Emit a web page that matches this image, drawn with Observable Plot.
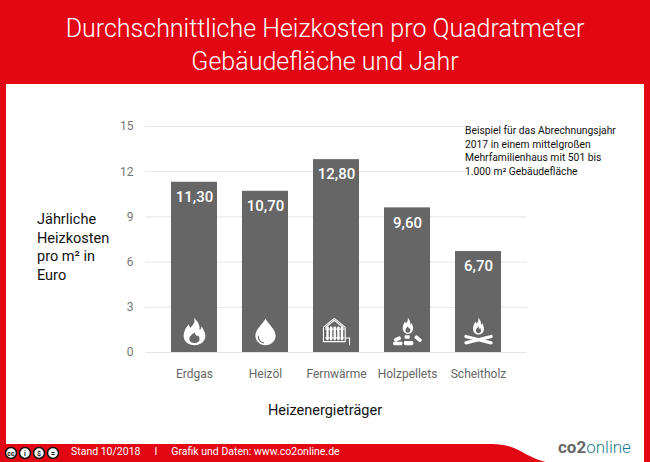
<!DOCTYPE html>
<html lang="de">
<head>
<meta charset="utf-8">
<script src="https://cdn.jsdelivr.net/npm/d3@7"></script>
<script src="https://cdn.jsdelivr.net/npm/@observablehq/plot@0.6"></script>
<style>
  html,body{margin:0;padding:0;background:#e30613;}
  #page{position:relative;width:650px;height:462px;overflow:hidden;font-family:Roboto,sans-serif;background:#e30613;}
  #panel{position:absolute;left:6px;top:84px;width:638px;height:360px;background:#fff;}
  #title{position:absolute;left:0;top:12px;width:650px;text-align:center;color:#fff;font-size:25px;font-weight:300;line-height:33px;}
  #chart{position:absolute;left:0;top:0;}
  #ylabel{position:absolute;left:37px;top:211px;font-size:14.5px;line-height:18.5px;color:#111;}
  #xlabel{position:absolute;left:0;top:402px;width:650px;text-align:center;padding-left:0;font-size:14.5px;color:#111;}
  #note{position:absolute;left:465px;top:124px;width:170px;font-size:10.3px;line-height:13.6px;color:#111;background:#fff;padding-top:0;}
  #foot{position:absolute;left:6px;top:445px;color:#fff;font-size:10.5px;white-space:nowrap;}
  #logo{position:absolute;left:558px;top:437px;font-size:17px;white-space:nowrap;color:#6a6a6a;}
  #logo b{font-weight:700;color:#666;}
  #logo span{color:#1d7f8c;font-weight:300;}
  #curve{position:absolute;left:0;top:0;}
</style>
</head>
<body>
<div id="page">
  <div id="panel"></div>
  <svg id="curve" width="650" height="462">
    <path d="M490 444 C512 444 518 450 530 456 C538 460 544 462 548 462 L644 462 L644 444 Z" fill="#fff"/>
    <g id="badges"></g>
  </svg>
  <div id="title">Durchschnittliche Heizkosten pro Quadratmeter<br>Gebäudefläche und Jahr</div>
  <div id="chart"></div>
  <div id="ylabel">Jährliche<br>Heizkosten<br>pro m² in<br>Euro</div>
  <div id="xlabel">Heizenergieträger</div>
  <div id="note">Beispiel für das Abrechnungsjahr<br>2017 in einem mittelgroßen<br>Mehrfamilienhaus mit 501 bis<br>1.000 m² Gebäudefläche</div>
  <div id="foot"><span style="margin-left:65px">Stand 10/2018</span><span style="margin-left:14px">I</span><span style="margin-left:14px">Grafik und Daten: www.co2online.de</span></div>
  <div id="logo"><b>co2</b><span>online</span></div>
</div>
<script>
const categories = ["Erdgas","Heizöl","Fernwärme","Holzpellets","Scheitholz"];
const costs = [11.30,10.70,12.80,9.60,6.70];
const costLabels = ["11,30","10,70","12,80","9,60","6,70"];
const yTicks = [0,3,6,9,12,15];
const badgeGlyphs = ["cc","i","$","="];

const svgUri = inner => "data:image/svg+xml," + encodeURIComponent(
  `<svg xmlns="http://www.w3.org/2000/svg" viewBox="0 0 40 40">${inner}</svg>`);
const flame = (s="#fff") => `<path fill-rule="evenodd" fill="${s}" d="M19 1c3 6-1 10-5 14-1-2-1-3-2-5-4 5-7 10-7 16 0 8 7 13 15 13s15-5 15-13c0-5-3-9-5-13-1 2-1 4-3 5 1-7-3-13-8-17zm1 20c1 3 2 4 4 6 0-1 0-1 1-2 1 2 2 3 2 5 0 4-3 6-7 6s-7-2-7-6c0-4 4-6 7-9z"/>`;
const icons = [
  svgUri(flame()),
  svgUri(`<path fill="#fff" d="M20 2C16 10 6 17 6 26c0 7 6 13 14 13s14-6 14-13C34 17 24 10 20 2z"/><path fill="none" stroke="#666" stroke-width="1.4" d="M10 26c0 5 3 9 8 10"/>`),
  svgUri(`<g fill="none" stroke="#fff" stroke-width="1.5"><path d="M2 14 17 2 32 14V34H2z"/><path d="M4.500 14.500 17 4.500 29.500 14.500"/><path d="M32 29H38V39"/></g><g fill="#fff"><rect x="6" y="13" width="3.200" height="19" rx="1"/><rect x="11" y="13" width="3.200" height="19" rx="1"/><rect x="16" y="13" width="3.200" height="19" rx="1"/><rect x="21" y="13" width="3.200" height="19" rx="1"/><rect x="26" y="13" width="3.200" height="19" rx="1"/><rect x="4" y="16" width="27" height="1.500"/><rect x="4" y="28" width="27" height="1.500"/></g>`),
  svgUri(`<g transform="translate(11 0) scale(.48 .6)">${flame()}</g><g fill="#fff"><rect x="1" y="28" width="10" height="5" rx="2" transform="rotate(-25 6 30)"/><rect x="0" y="34" width="13" height="5" rx="2"/><rect x="15" y="33" width="13" height="6" rx="2"/><rect x="16" y="25" width="7" height="5" rx="1"/><rect x="29" y="27" width="11" height="5" rx="2" transform="rotate(40 34 30)"/></g>`),
  svgUri(`<g transform="translate(10 0) scale(.5 .62)">${flame()}</g><g fill="#fff"><rect x="0" y="29" width="40" height="4.500" rx="2" transform="rotate(14 20 31)"/><rect x="0" y="29" width="40" height="4.500" rx="2" transform="rotate(-14 20 31)"/></g>`)
];
const rows = categories.map((c,i)=>({c,v:costs[i],label:costLabels[i],icon:icons[i]}));

const chart = Plot.plot({
  width:650, height:462,
  marginLeft:145, marginRight:123, marginTop:126, marginBottom:110,
  style:{background:"transparent",fontFamily:"Roboto,sans-serif"},
  x:{domain:categories,paddingInner:0.35,paddingOuter:0.34,label:null,tickSize:0,tickPadding:14},
  y:{domain:[0,15],ticks:yTicks,label:null,tickSize:0,tickPadding:10},
  marks:[
    Plot.gridY(yTicks,{stroke:"#e6e6e6",strokeOpacity:1,strokeWidth:1}),
    Plot.axisY({ticks:yTicks,tickSize:0,tickPadding:12,fontSize:12,label:null,color:"#777",tickFormat:d=>d}),
    Plot.axisX({tickSize:0,tickPadding:17,fontSize:12,label:null,color:"#666"}),
    Plot.barY(rows,{x:"c",y:"v",fill:"#666666"}),
    Plot.text(rows,{x:"c",y:"v",text:"label",dy:15,fill:"#fff",fontSize:15,fontWeight:500}),
    Plot.image(rows,{x:"c",frameAnchor:"bottom",dy:-21,src:"icon",width:29,height:29})
  ]
});
document.getElementById("chart").append(chart);
const g = d3.select("#badges");
badgeGlyphs.forEach((t,i)=>{
  const cx = 11+i*14;
  g.append("circle").attr("cx",cx).attr("cy",453).attr("r",5.500).attr("fill","#fff").attr("stroke","#111").attr("stroke-width",1.500);
  g.append("text").attr("x",cx).attr("y",455.500).attr("text-anchor","middle").attr("font-size",7).attr("font-weight",700).attr("fill","#111").text(t);
});
</script>
</body>
</html>
